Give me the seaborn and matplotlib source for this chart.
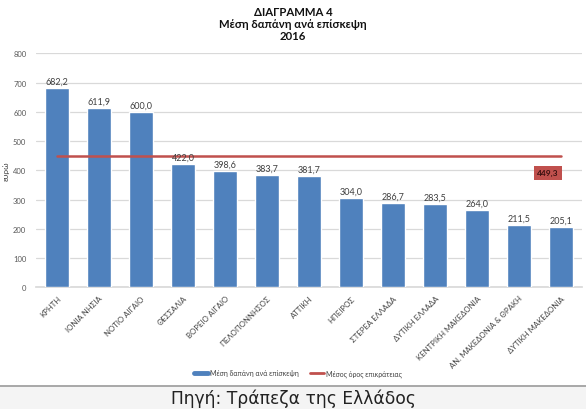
import numpy as np
import pandas as pd
import matplotlib
matplotlib.use("Agg")
import matplotlib.pyplot as plt
import seaborn as sns
from matplotlib.lines import Line2D
from matplotlib.patches import Rectangle

# --- data ---------------------------------------------------------------------
regions = ["ΚΡΗΤΗ", "ΙΟΝΙΑ ΝΗΣΙΑ", "ΝΟΤΙΟ ΑΙΓΑΙΟ", "ΘΕΣΣΑΛΙΑ", "ΒΟΡΕΙΟ ΑΙΓΑΙΟ",
           "ΠΕΛΟΠΟΝΝΗΣΟΣ", "ΑΤΤΙΚΗ", "ΗΠΕΙΡΟΣ", "ΣΤΕΡΕΑ ΕΛΛΑΔΑ", "ΔΥΤΙΚΗ ΕΛΛΑΔΑ",
           "ΚΕΝΤΡΙΚΗ ΜΑΚΕΔΟΝΙΑ", "ΑΝ. ΜΑΚΕΔΟΝΙΑ & ΘΡΑΚΗ", "ΔΥΤΙΚΗ ΜΑΚΕΔΟΝΙΑ"]
spend = [682.2, 611.9, 600.0, 422.0, 398.6, 383.7, 381.7, 304.0, 286.7, 283.5,
         264.0, 211.5, 205.1]
national_avg = 449.3
yticks = [0, 100, 200, 300, 400, 500, 600, 700, 800]

series_bar = "Μέση δαπάνη ανά επίσκεψη"
series_line = "Μέσος όρος επικράτειας"
title_lines = ["ΔΙΑΓΡΑΜΜΑ 4", "Μέση δαπάνη ανά επίσκεψη", "2016"]
source_text = "Πηγή: Τράπεζα της Ελλάδος"

BLUE = "#4F81BD"
RED = "#C0504D"

df = pd.DataFrame({"region": regions, "spend": spend})

sns.set_theme(style="white")
plt.rcParams["font.family"] = ["Lato", "DejaVu Sans"]

fig = plt.figure(figsize=(5.86, 4.10), dpi=100)
fig.patch.set_facecolor("white")

# grey source strip at the bottom
fig.patches.append(Rectangle((0, 0), 1, 1 - 387 / 410, transform=fig.transFigure,
                             facecolor="#f4f4f4", edgecolor="none", zorder=0))
fig.lines.append(Line2D([0, 1], [1 - 387 / 410] * 2, transform=fig.transFigure,
                        color="#9a9a9a", lw=1.2))

ax = fig.add_axes([36 / 586, 1 - 288.3 / 410, (582 - 36) / 586, (288.3 - 54.3) / 410])
sns.barplot(data=df, x="region", y="spend", color=BLUE, width=0.56,
            saturation=1, ax=ax, zorder=3)

xs = np.arange(len(regions))
ax.plot(xs, [national_avg] * len(xs), color=RED, lw=1.8, zorder=4)

for x, v in zip(xs, spend):
    ax.text(x, v + 8, f"{v:.1f}".replace(".", ","), ha="center", va="bottom",
            fontsize=6.5, color="#404040", zorder=5)

ax.text(xs[-1] - 0.31, national_avg - 58, f"{national_avg:.1f}".replace(".", ","),
        ha="center", va="center", fontsize=6, fontweight="bold", color="#3a1010",
        bbox=dict(boxstyle="square,pad=0.4", facecolor=RED, edgecolor="none"),
        zorder=5)

ax.set_ylim(0, 800)
ax.set_xlim(-0.5, len(regions) - 0.5)
ax.set_yticks(yticks)
ax.set_yticklabels([str(t) for t in yticks], fontsize=5.5, color="#595959")
ax.grid(axis="y", color="#d9d9d9", lw=0.9, zorder=0)
ax.set_axisbelow(True)
for s in ["top", "right", "left"]:
    ax.spines[s].set_visible(False)
ax.spines["bottom"].set_color("#d9d9d9")
ax.tick_params(axis="both", length=0, pad=7)
ax.set_xlabel("")
ax.set_ylabel("ευρώ", fontsize=6, color="#404040")
ax.yaxis.set_label_coords(-26 / 546, 0.5)
ax.set_xticks(xs)
ax.set_xticklabels(regions, rotation=45, ha="right", rotation_mode="anchor",
                   fontsize=5.6, color="#404040")
ax.tick_params(axis="x", pad=5)

for i, line in enumerate(title_lines):
    fig.text(0.5, 1 - (12 + 12 * i) / 410, line, ha="center", va="center",
             fontsize=8.2, fontweight="bold", color="#111111")

handles = [Line2D([], [], color=BLUE, lw=3.5), Line2D([], [], color=RED, lw=2)]
fig.legend(handles, [series_bar, series_line], loc="center",
           bbox_to_anchor=(298 / 586, 1 - 374 / 410), ncol=2, frameon=False,
           fontsize=5, handlelength=2.0, handletextpad=0.3, columnspacing=1.6,
           labelcolor="#404040")

fig.text(0.5, 1 - 399 / 410, source_text, ha="center", va="center",
         fontsize=12.3, color="#222222", family=["DejaVu Sans"])

fig.savefig("out.png", dpi=100)
